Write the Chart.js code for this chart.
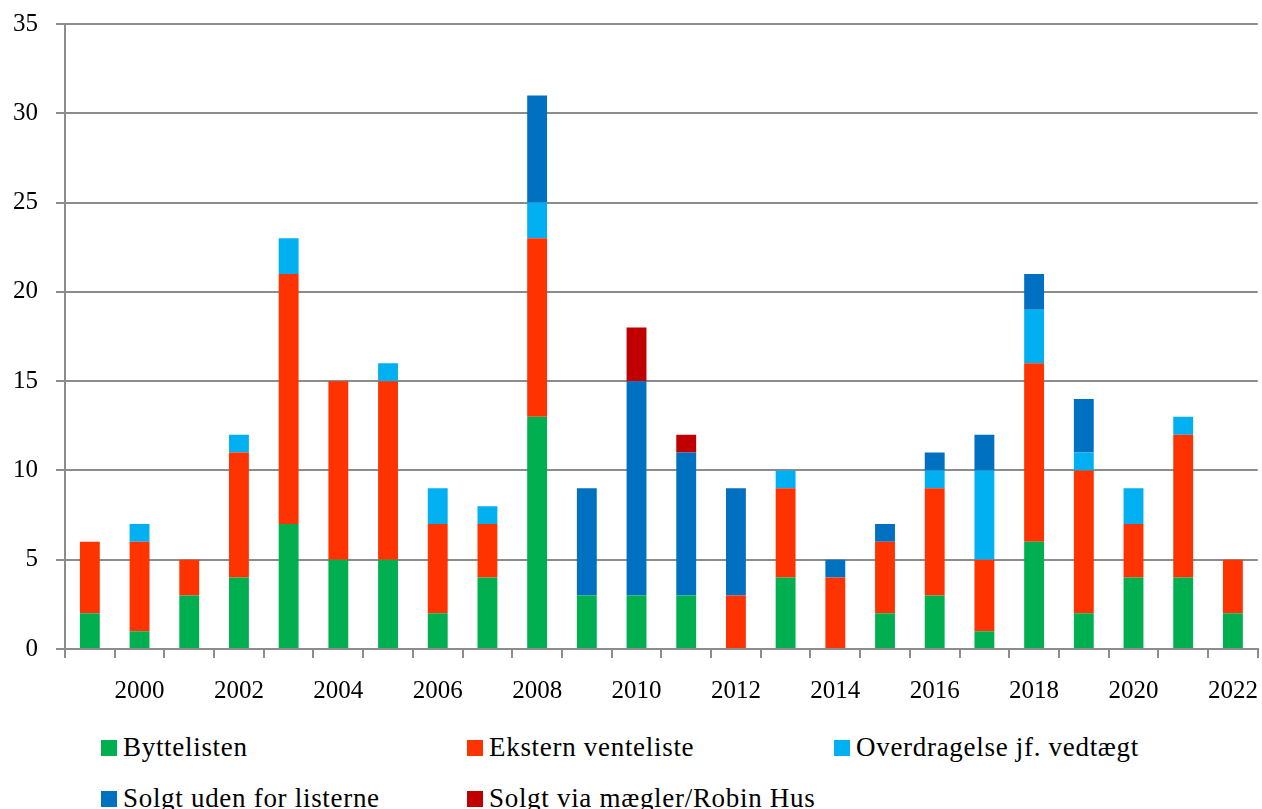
<!DOCTYPE html>
<html>
<head>
<meta charset="utf-8">
<script src="https://cdn.jsdelivr.net/npm/chart.js@4"></script>
<style>
  html, body { margin: 0; padding: 0; background: #fff; overflow: hidden; }
  #wrap { position: relative; width: 1262px; height: 809px; overflow: hidden; }
  #box { position: absolute; left: 0; top: 0; width: 1276px; height: 732px; }
  .legend { position: absolute; font-family: "Liberation Serif", serif; font-size: 27px;
            letter-spacing: 0.7px; color: #000; white-space: nowrap; line-height: 1; }
  .legend span.sw { display: inline-block; width: 16px; height: 16px; margin-right: 6px; vertical-align: 0px; }
</style>
</head>
<body>
<div id="wrap">
  <div id="box"><canvas id="chart"></canvas></div>
  <div id="legend"></div>
</div>
<script>
var years = ['1999','2000','2001','2002','2003','2004','2005','2006','2007','2008','2009','2010',
             '2011','2012','2013','2014','2015','2016','2017','2018','2019','2020','2021','2022'];
var xTickLabels = ['','2000','','2002','','2004','','2006','','2008','','2010',
                   '','2012','','2014','','2016','','2018','','2020','','2022'];
var yTicks = [0, 5, 10, 15, 20, 25, 30, 35];

var byttelisten   = [2, 1, 3, 4, 7, 5, 5, 2, 4, 13, 3, 3, 3, 0, 4, 0, 2, 3, 1, 6, 2, 4, 4, 2];
var eksternVente  = [4, 5, 2, 7, 14, 10, 10, 5, 3, 10, 0, 0, 0, 3, 5, 4, 4, 6, 4, 10, 8, 3, 8, 3];
var overdragelse  = [0, 1, 0, 1, 2, 0, 1, 2, 1, 2, 0, 0, 0, 0, 1, 0, 0, 1, 5, 3, 1, 2, 1, 0];
var solgtUden     = [0, 0, 0, 0, 0, 0, 0, 0, 0, 6, 6, 12, 8, 6, 0, 1, 1, 1, 2, 2, 3, 0, 0, 0];
var solgtMaegler  = [0, 0, 0, 0, 0, 0, 0, 0, 0, 0, 0, 3, 1, 0, 0, 0, 0, 0, 0, 0, 0, 0, 0, 0];

var seriesNames  = ['Byttelisten', 'Ekstern venteliste', 'Overdragelse jf. vedtægt',
                    'Solgt uden for listerne', 'Solgt via mægler/Robin Hus'];
var seriesColors = ['#00B050', '#FF3300', '#00B0F0', '#0070C0', '#C00000'];
var seriesData   = [byttelisten, eksternVente, overdragelse, solgtUden, solgtMaegler];

var FONT = "'Liberation Serif', serif";
var GRID = '#8c8c8c';

var datasets = [];
for (var i = 0; i < seriesNames.length; i++) {
    datasets.push({
        label: seriesNames[i],
        data: seriesData[i],
        backgroundColor: seriesColors[i],
        borderWidth: 0,
        barPercentage: 0.8,
        categoryPercentage: 0.5
    });
}

new Chart(document.getElementById('chart'), {
    type: 'bar',
    data: { labels: years, datasets: datasets },
    options: {
        responsive: true,
        maintainAspectRatio: false,
        animation: false,
        layout: { padding: { left: 0, right: 5, top: 24, bottom: 8 } },
        plugins: { legend: { display: false }, tooltip: { enabled: false } },
        scales: {
            x: {
                stacked: true,
                grid: { display: true, drawOnChartArea: false, drawTicks: true, tickLength: 9,
                        color: GRID, lineWidth: 2, offset: true },
                border: { color: GRID, width: 2 },
                ticks: {
                    autoSkip: false, maxRotation: 0, padding: 18, color: '#000',
                    font: { family: FONT, size: 25 },
                    callback: function (v, idx) { return xTickLabels[idx]; }
                }
            },
            y: {
                stacked: true,
                min: yTicks[0], max: yTicks[yTicks.length - 1],
                afterFit: function (scale) {
                    scale.width = 65;
                    scale.paddingTop = 0;
                    scale.paddingBottom = 0;
                },
                afterBuildTicks: function (scale) {
                    scale.ticks = yTicks.map(function (v) { return { value: v }; });
                },
                grid: { color: GRID, lineWidth: 2, tickLength: 9 },
                border: { color: GRID, width: 2 },
                ticks: { padding: 18, color: '#000', font: { family: FONT, size: 25 } }
            }
        }
    }
});

// legend laid out in three columns like the original
var legendPos = [[101, 734], [467, 734], [834, 734], [101, 785], [467, 785]];
var html = '';
for (var j = 0; j < seriesNames.length; j++) {
    html += '<div class="legend" style="left:' + legendPos[j][0] + 'px;top:' + legendPos[j][1] + 'px">' +
            '<span class="sw" style="background:' + seriesColors[j] + '"></span>' + seriesNames[j] + '</div>';
}
document.getElementById('legend').innerHTML = html;
</script>
</body>
</html>
